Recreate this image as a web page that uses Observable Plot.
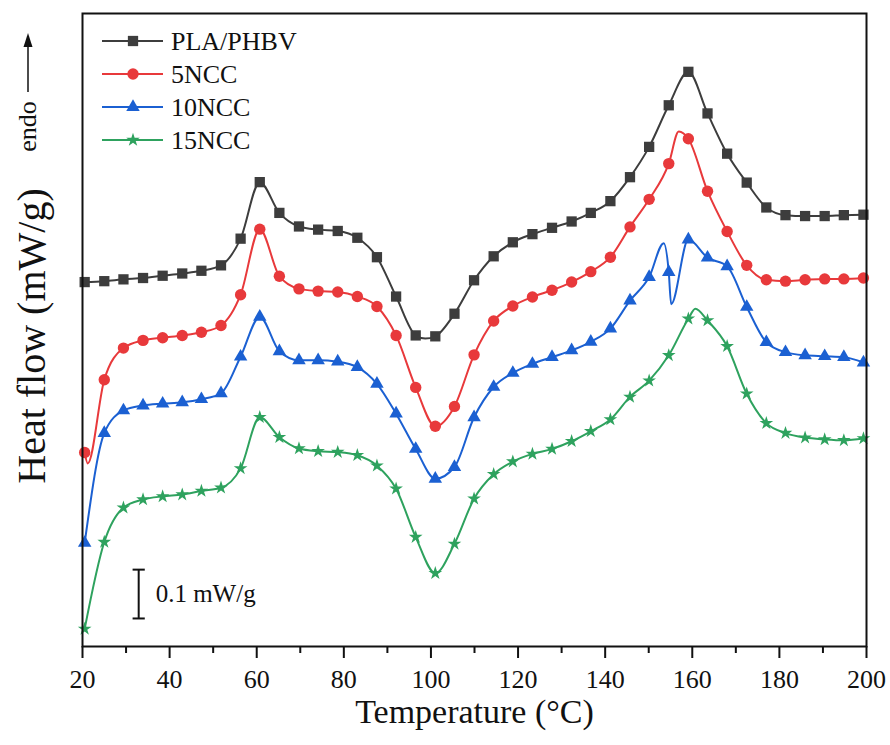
<!DOCTYPE html>
<html><head><meta charset="utf-8">
<script src="https://cdn.jsdelivr.net/npm/d3@7"></script>
<script src="https://cdn.jsdelivr.net/npm/@observablehq/plot@0.6"></script>
<style>
html,body{margin:0;padding:0;background:#fff;}
#chart{width:890px;height:745px;}
</style></head><body><div id="chart"></div>
<script>
// Temperatures (°C) of the plotted markers
const temps = [20.5,25.0,29.4,33.9,38.4,42.9,47.3,51.8,56.3,60.7,65.2,69.7,74.1,78.6,83.1,87.6,92.0,96.5,101.0,105.4,109.9,114.4,118.8,123.3,127.8,132.3,136.7,141.2,145.7,150.1,154.6,159.1,163.5,168.0,172.5,177.0,181.4,185.9,190.4,194.8,199.3];

// Heat flow (mW/g, offset curves)
const plaPhbv = [0.806,0.808,0.812,0.815,0.820,0.825,0.831,0.843,0.902,1.027,0.959,0.929,0.922,0.919,0.904,0.861,0.774,0.688,0.686,0.736,0.810,0.863,0.894,0.912,0.926,0.940,0.959,0.985,1.038,1.105,1.197,1.271,1.179,1.090,1.026,0.971,0.954,0.952,0.952,0.954,0.955];
const ncc5 = [0.429,0.590,0.660,0.677,0.683,0.688,0.695,0.710,0.778,0.923,0.819,0.791,0.786,0.784,0.774,0.752,0.688,0.573,0.487,0.531,0.645,0.720,0.753,0.773,0.788,0.806,0.829,0.861,0.928,0.989,1.068,1.123,1.007,0.918,0.843,0.811,0.808,0.811,0.813,0.813,0.815];
const ncc10 = [0.229,0.472,0.522,0.533,0.537,0.540,0.547,0.560,0.641,0.729,0.653,0.633,0.633,0.630,0.618,0.581,0.515,0.437,0.371,0.397,0.507,0.574,0.605,0.625,0.640,0.655,0.674,0.703,0.765,0.817,0.828,0.900,0.860,0.841,0.751,0.673,0.651,0.644,0.642,0.640,0.628];
const ncc15 = [0.039,0.231,0.307,0.325,0.332,0.336,0.344,0.351,0.394,0.507,0.463,0.438,0.432,0.430,0.423,0.400,0.349,0.242,0.162,0.227,0.327,0.381,0.409,0.426,0.437,0.454,0.476,0.502,0.552,0.588,0.644,0.725,0.721,0.664,0.559,0.494,0.472,0.462,0.458,0.456,0.460];

// Extra curve points between markers (line only)
const plaPhbvExtraT = [98.7], plaPhbvExtraV = [0.681];
const ncc5ExtraT = [21.2, 156.9], ncc5ExtraV = [0.405, 1.139];
const ncc10ExtraT = [153.45, 155.15], ncc10ExtraV = [0.892, 0.757];
const ncc15ExtraT = [160.7], ncc15ExtraV = [0.747];

const seriesNames = ["PLA/PHBV","5NCC","10NCC","15NCC"];
const seriesColors = ["#3d3d3d","#e8393b","#1b60d2","#2ea25e"];
const seriesSymbols = ["square","circle","triangle","star"];
const seriesR = [5.8,5.7,5.0,4.3];

const xTicks = [20,40,60,80,100,120,140,160,180,200];
const xMinorTicks = [30,50,70,90,110,130,150,170,190];

// scale bar (0.1 mW/g)
const scaleBarT = 32.9, scaleBarLow = 0.062, scaleBarHigh = 0.170, scaleBarLabel = "0.1 mW/g";

const allValues = [plaPhbv, ncc5, ncc10, ncc15];
const allExtraT = [plaPhbvExtraT, ncc5ExtraT, ncc10ExtraT, ncc15ExtraT];
const allExtraV = [plaPhbvExtraV, ncc5ExtraV, ncc10ExtraV, ncc15ExtraV];

const marks = [];
seriesNames.forEach((name, k) => {
  const markers = temps.map((t, i) => ({T: t, v: allValues[k][i]}));
  const line = markers.concat(allExtraT[k].map((t, j) => ({T: t, v: allExtraV[k][j]}))).sort((a, b) => a.T - b.T);
  marks.push(Plot.line(line, {x: "T", y: "v", stroke: seriesColors[k], strokeWidth: 2, curve: "monotone-x"}));
  marks.push(Plot.dot(markers, {x: "T", y: "v", fill: seriesColors[k], stroke: "none", symbol: seriesSymbols[k], r: seriesR[k]}));
});

const chart = Plot.plot({
  width: 890, height: 745,
  marginLeft: 82, marginRight: 24, marginTop: 13, marginBottom: 99,
  style: {fontFamily: "'Liberation Serif','Times New Roman',serif", fontSize: "26px", background: "white", color: "#111"},
  x: {domain: [20, 200], label: null},
  y: {domain: [0, 1.4], axis: null, label: null},
  marks: [
    ...marks,
    Plot.ruleX([scaleBarT], {x: d => d, y1: scaleBarLow, y2: scaleBarHigh, stroke: "#111", strokeWidth: 2}),
    Plot.link([scaleBarLow, scaleBarHigh], {x1: scaleBarT - 1.4, x2: scaleBarT + 1.4, y1: d => d, y2: d => d, stroke: "#111", strokeWidth: 2}),
    Plot.text([scaleBarLabel], {x: scaleBarT + 3.9, y: (scaleBarLow + scaleBarHigh) / 2, text: d => d, textAnchor: "start", fontSize: 25, fill: "#111"}),
    Plot.frame({stroke: "#111", strokeWidth: 2}),
    Plot.axisX(xTicks, {tickSize: 12, tickPadding: 11, fontSize: 26, label: null, strokeWidth: 2, stroke: "#111"}),
    Plot.axisX(xMinorTicks, {tickSize: 7, tickFormat: () => "", label: null, strokeWidth: 2, stroke: "#111"}),
    Plot.text(["Temperature (°C)"], {frameAnchor: "bottom", dy: 76, textAnchor: "middle", fontSize: 34, fill: "#111"}),
    Plot.text(["Heat flow (mW/g)"], {frameAnchor: "left", dx: -50, dy: 6, rotate: -90, textAnchor: "middle", fontSize: 40, fill: "#111"}),
    Plot.text(["endo"], {frameAnchor: "top-left", dx: -65, dy: 113, rotate: -90, textAnchor: "middle", fontSize: 26, fill: "#111"})
  ]
});
document.getElementById("chart").appendChild(chart);

// legend + endo arrow
const svg = d3.select(chart);
const symMap = {square: d3.symbolSquare, circle: d3.symbolCircle, triangle: d3.symbolTriangle, star: d3.symbolStar};
const leg = svg.append("g").attr("text-anchor", "start");
seriesNames.forEach((name, k) => {
  const y = 41 + k * 33;
  leg.append("line").attr("x1", 102).attr("x2", 163).attr("y1", y).attr("y2", y).attr("stroke", seriesColors[k]).attr("stroke-width", 2);
  leg.append("path").attr("transform", `translate(133,${y})`).attr("d", d3.symbol(symMap[seriesSymbols[k]], Math.PI * seriesR[k] * seriesR[k])()).attr("fill", seriesColors[k]);
  leg.append("text").attr("x", 171).attr("y", y).attr("dy", "0.35em").attr("text-anchor", "start").attr("font-size", 26).attr("fill", "#111").text(name);
});
const arr = svg.append("g");
arr.append("line").attr("x1", 28).attr("x2", 28).attr("y1", 92).attr("y2", 44).attr("stroke", "#111").attr("stroke-width", 1.5);
arr.append("path").attr("d", "M28,33 L23.5,47 L32.5,47 Z").attr("fill", "#111");
</script></body></html>
